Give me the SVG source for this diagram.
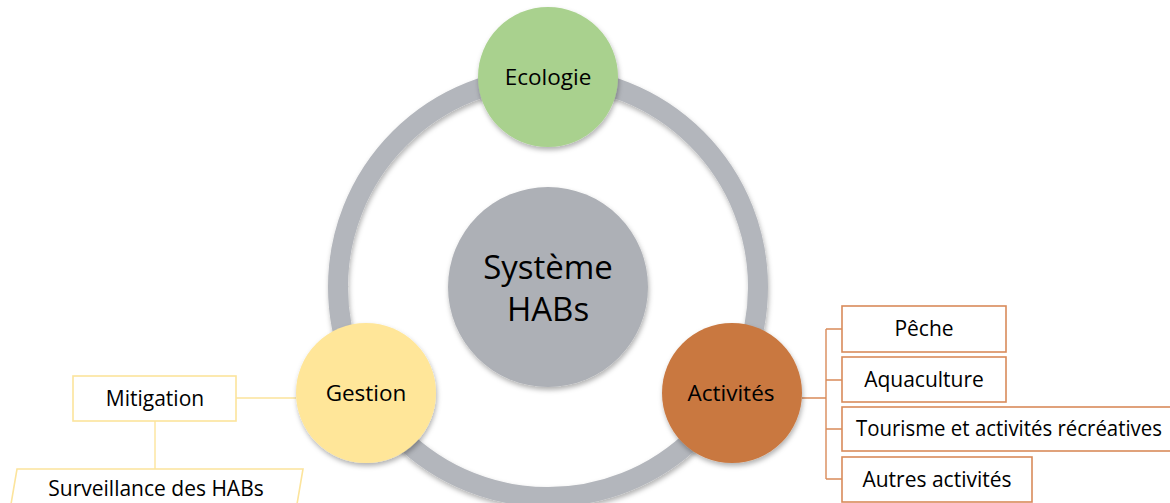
<svg xmlns="http://www.w3.org/2000/svg" width="1170" height="503" viewBox="0 0 1170 503">
<defs>
<style>
.t{font-family:"Open Sans","Liberation Sans",sans-serif;fill:#000;text-anchor:middle}
.ob{fill:#fff;stroke:#D98B5A;stroke-width:1.6}
.yb{fill:#fff;stroke:#FCE49C;stroke-width:1.6}
.oc{fill:none;stroke:#D98B5A;stroke-width:1.4}
.yc{fill:none;stroke:#FCE49C;stroke-width:1.4}
</style>
<filter id="sh" x="-20%" y="-20%" width="140%" height="150%">
<feDropShadow dx="1" dy="3" stdDeviation="2.5" flood-color="#000" flood-opacity="0.3"/>
</filter>
</defs>
<rect width="1170" height="503" fill="#fff"/>
<g id="ring">
<circle cx="548" cy="287" r="210" fill="none" stroke="#B3B6BC" stroke-width="20" filter="url(#sh)"/>
</g>
<g id="connectors">
<path class="oc" d="M802 398H826M826 329V479M826 329H842M826 380H842M826 429H842M826 479H842"/>
<path class="yc" d="M236 398H296M155 421V469"/>
</g>
<g id="center">
<circle cx="548" cy="287" r="100" fill="#ADB0B6" filter="url(#sh)"/>
<text class="t" x="548" y="279" font-size="33">Système</text>
<text class="t" x="548" y="321" font-size="33">HABs</text>
</g>
<g id="ecologie">
<circle cx="548" cy="77" r="70" fill="#A9D18E" filter="url(#sh)"/>
<text class="t" x="548" y="85" font-size="22.5">Ecologie</text>
</g>
<g id="gestion">
<circle cx="366" cy="393" r="70" fill="#FFE699" filter="url(#sh)"/>
<text class="t" x="366" y="401" font-size="22.5">Gestion</text>
</g>
<g id="activites">
<circle cx="732" cy="393" r="70" fill="#C97841" filter="url(#sh)"/>
<text class="t" x="731" y="401" font-size="22.5">Activités</text>
</g>
<g id="peche">
<rect class="ob" x="842" y="306" width="164" height="46"/>
<text class="t" x="924" y="336" font-size="21">Pêche</text>
</g>
<g id="aquaculture">
<rect class="ob" x="842" y="357" width="164" height="45"/>
<text class="t" x="924" y="387" font-size="21">Aquaculture</text>
</g>
<g id="tourisme">
<rect class="ob" x="842" y="407" width="340" height="44"/>
<text class="t" x="1009" y="436" font-size="21" textLength="306" lengthAdjust="spacingAndGlyphs">Tourisme et activités récréatives</text>
</g>
<g id="autres">
<rect class="ob" x="842" y="457" width="190" height="45"/>
<text class="t" x="937" y="487" font-size="21">Autres activités</text>
</g>
<g id="mitigation">
<rect class="yb" x="73" y="376" width="163" height="45"/>
<text class="t" x="155" y="406" font-size="21">Mitigation</text>
</g>
<g id="surveillance">
<path class="yb" d="M17 469H303L296 510H10Z"/>
<text class="t" x="156" y="496" font-size="21">Surveillance des HABs</text>
</g>
</svg>
